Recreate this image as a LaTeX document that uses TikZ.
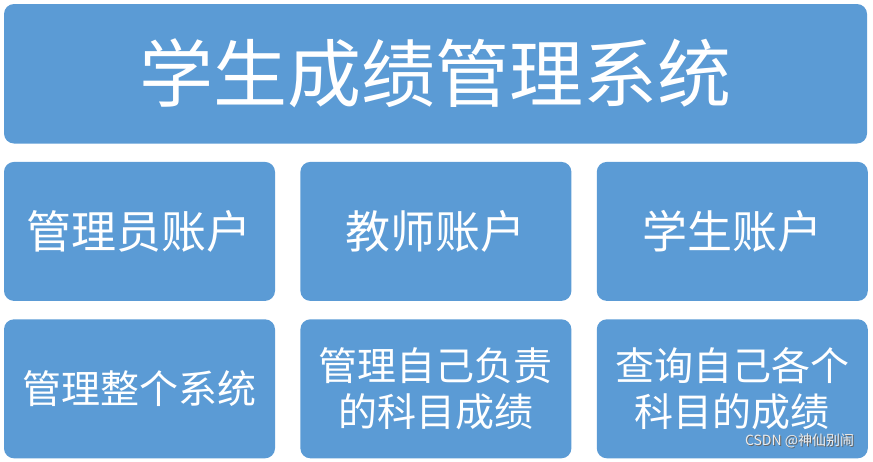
\documentclass[tikz,border=0pt]{standalone}
\usepackage{fontspec}
\usepackage{tikz}
\usetikzlibrary{positioning}
\newfontfamily\cjk{Noto Sans CJK SC}
\definecolor{officeblue}{HTML}{5B9BD5}

\begin{document}
\begin{tikzpicture}[
    x=1pt, y=-1pt,
    font=\cjk,
    title/.style={
		rectangle,
		rounded corners=10pt,
		fill=officeblue,
		draw=none,
		text=white,
		inner sep=0pt,
		minimum height=139.5pt,
		minimum width=863pt,
		font=\cjk\fontsize{74}{80}\selectfont
	},
	account/.style={
		rectangle,
		rounded corners=10pt,
		fill=officeblue,
		draw=none,
		text=white,
		inner sep=0pt,
		minimum height=139pt,
		minimum width=271pt,
		font=\cjk\fontsize{45}{50}\selectfont
	},
	duty/.style={
		account,
		align=center,
		font=\cjk\fontsize{39}{46}\selectfont
	},
	watermark/.style={
	  anchor=east,
	  font=\cjk\fontsize{14}{16}\selectfont
    }
  ]

 \useasboundingbox (0,0) rectangle (873,461);

 \node [title] (system) at (435.5,73.75) {学生成绩管理系统};

% accounts
 \node [account, below right=18pt and 0pt of system.south west] (admin) {管理员账户};
 \node [account, right=25pt of admin] (teacher) {教师账户};
 \node [account, right=25pt of teacher] (student) {学生账户};

% what each account does
 \node [duty, below=18pt of admin] (adminjob) {管理整个系统};
 \node [duty, below=18pt of teacher] (teacherjob) {管理自己负责\\的科目成绩};
 \node [duty, below=18pt of student] (studentjob) {查询自己各个\\科目的成绩};

 \node [watermark, text=black!60] (csdnshadow) at (858.6,442.2) {CSDN @神仙别闹};
 \node [watermark, text=gray!15] (csdn) at (857.6,441.2) {CSDN @神仙别闹};

\end{tikzpicture}
\end{document}
